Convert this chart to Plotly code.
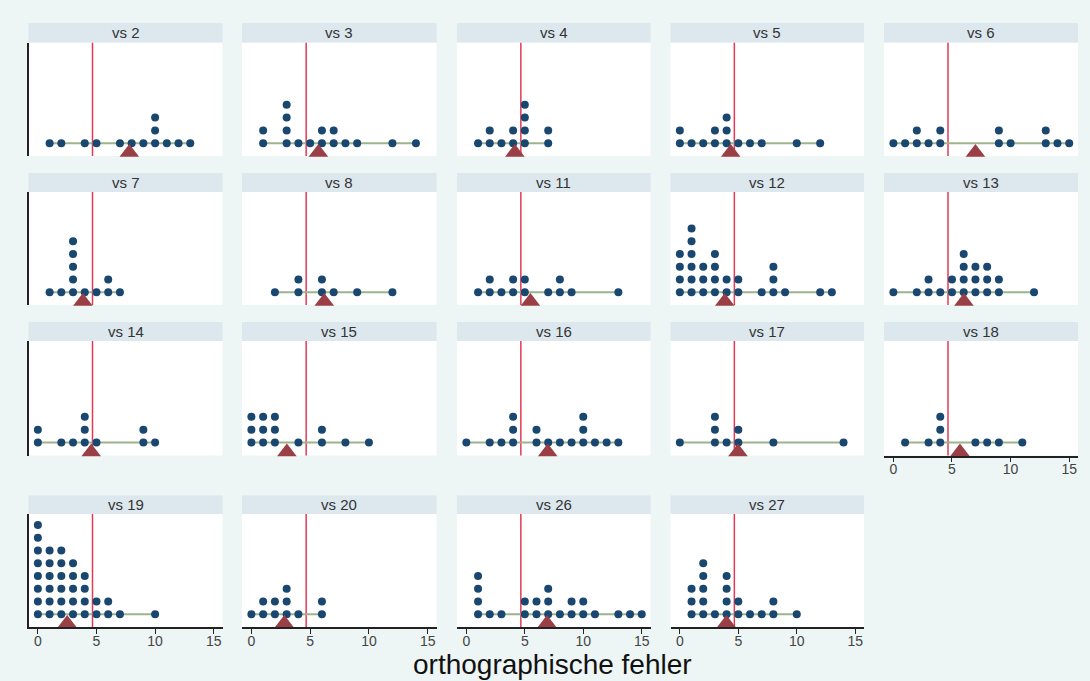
import plotly.graph_objects as go
from collections import Counter

# Orthographic error counts per class (one entry per pupil)
vs2 = [1, 2, 4, 5, 7, 8, 9, 10, 10, 10, 11, 12, 13]
vs3 = [1, 1, 3, 3, 3, 3, 4, 5, 6, 6, 7, 7, 8, 9, 12, 14]
vs4 = [1, 2, 2, 3, 4, 4, 5, 5, 5, 5, 7, 7]
vs5 = [0, 0, 1, 2, 3, 3, 4, 4, 4, 5, 6, 7, 10, 12]
vs6 = [0, 1, 2, 2, 3, 4, 4, 9, 9, 10, 13, 13, 14, 15]
vs7 = [1, 2, 3, 3, 3, 3, 3, 4, 5, 6, 6, 7]
vs8 = [2, 4, 4, 6, 6, 7, 9, 12]
vs11 = [1, 2, 2, 3, 4, 4, 5, 5, 7, 8, 8, 9, 13]
vs12 = [0, 0, 0, 0, 1, 1, 1, 1, 1, 1, 2, 2, 2, 3, 3, 3, 3, 4, 4, 5, 5,
        7, 8, 8, 8, 9, 12, 13]
vs13 = [0, 2, 3, 3, 4, 5, 5, 6, 6, 6, 6, 7, 7, 7, 8, 8, 8, 9, 9, 12]
vs14 = [0, 0, 2, 3, 4, 4, 4, 5, 9, 9, 10]
vs15 = [0, 0, 0, 1, 1, 1, 2, 2, 2, 4, 6, 6, 8, 10]
vs16 = [0, 2, 3, 4, 4, 4, 6, 6, 7, 8, 9, 10, 10, 10, 11, 12, 13]
vs17 = [0, 3, 3, 3, 4, 5, 5, 8, 14]
vs18 = [1, 3, 4, 4, 4, 7, 8, 9, 11]
vs19 = [0] * 8 + [1] * 6 + [2] * 6 + [3] * 5 + [4] * 4 + [5] * 2 + [6] * 2 + [7, 10]
vs20 = [0, 1, 1, 2, 2, 3, 3, 3, 4, 6, 6]
vs26 = [1, 1, 1, 1, 2, 3, 5, 5, 6, 6, 7, 7, 7, 8, 9, 9, 10, 10, 11, 13, 14, 15]
vs27 = [1, 1, 1, 2, 2, 2, 2, 2, 3, 4, 4, 4, 4, 5, 5, 6, 7, 8, 8, 10]

class_labels = ["vs 2", "vs 3", "vs 4", "vs 5", "vs 6",
                "vs 7", "vs 8", "vs 11", "vs 12", "vs 13",
                "vs 14", "vs 15", "vs 16", "vs 17", "vs 18",
                "vs 19", "vs 20", "vs 26", "vs 27"]
class_values = [vs2, vs3, vs4, vs5, vs6, vs7, vs8, vs11, vs12, vs13,
                vs14, vs15, vs16, vs17, vs18, vs19, vs20, vs26, vs27]
# class means (triangles) and overall mean (vertical line)
class_means = [7.8, 5.7, 4.15, 4.35, 7.0, 3.84, 6.2, 5.48, 3.84, 6.02,
               4.55, 3.02, 6.96, 4.97, 5.68, 2.5, 2.8, 6.9, 3.98]
overall_mean = 4.66
x_ticks = [0, 5, 10, 15]

W, H = 1090, 681
BG = "#edf5f5"
HEADER = "#dce8ee"
DOT = "#1a476f"
TRI = "#9a3f45"
SPAN = "#9db38c"
MEANLINE = "#e23a55"
AXIS = "#222222"
FONT = "Liberation Sans, Arial, sans-serif"

col_px = [(28.5, 222.5), (242, 436.5), (457, 650.5), (670.5, 864), (884, 1078)]
row_plot_px = [(42.5, 156), (192, 305), (341, 455.5), (514, 627)]
row_head_px = [(23, 42.5), (173, 192), (322, 341), (495.5, 514)]
x_range = [-0.8, 15.75]
y_range = [-1.0, 7.86]

fig = go.Figure()
layout = {}
shapes = []
annotations = []

n_panels = len(class_labels)
for i, (label, vals, mu) in enumerate(zip(class_labels, class_values, class_means)):
    r, c = divmod(i, 5)
    k = i + 1
    xa = "x" if k == 1 else f"x{k}"
    ya = "y" if k == 1 else f"y{k}"
    x0p, x1p = col_px[c]
    y0p, y1p = row_plot_px[r]
    # bottom panel in each column gets the x axis
    has_xaxis = i + 5 >= n_panels
    left_col = c == 0

    layout["xaxis" if k == 1 else f"xaxis{k}"] = dict(
        domain=[x0p / W, x1p / W], anchor=ya, range=x_range, fixedrange=True,
        showgrid=False, zeroline=False,
        showline=has_xaxis, linecolor=AXIS, linewidth=1.5,
        ticks="outside" if has_xaxis else "", ticklen=5, tickcolor=AXIS,
        tickvals=x_ticks, showticklabels=has_xaxis, ticklabelstandoff=-5,
        tickfont=dict(family=FONT, size=14, color="#444444"),
    )
    layout["yaxis" if k == 1 else f"yaxis{k}"] = dict(
        domain=[1 - y1p / H, 1 - y0p / H], anchor=xa, range=y_range,
        fixedrange=True, showgrid=False, zeroline=False,
        showticklabels=False, ticks="",
        showline=left_col, linecolor=AXIS, linewidth=1.5,
    )

    # stacked dot positions
    counts = Counter(vals)
    xs, ys = [], []
    for v in sorted(counts):
        for j in range(counts[v]):
            xs.append(v)
            ys.append(j)

    fig.add_trace(go.Scatter(
        x=[min(vals), max(vals)], y=[0, 0], mode="lines",
        line=dict(color=SPAN, width=2), xaxis=xa, yaxis=ya,
        hoverinfo="skip", showlegend=False))
    fig.add_trace(go.Scatter(
        x=xs, y=ys, mode="markers",
        marker=dict(color=DOT, size=8, line=dict(width=0)),
        xaxis=xa, yaxis=ya, showlegend=False))
    fig.add_trace(go.Scatter(
        x=[mu], y=[-0.72], mode="markers", cliponaxis=False,
        marker=dict(symbol="triangle-up", color=TRI, size=17, line=dict(width=0)),
        xaxis=xa, yaxis=ya, showlegend=False))

    shapes.append(dict(
        type="line", xref=xa, yref=f"{ya} domain", x0=overall_mean, x1=overall_mean,
        y0=0, y1=1, line=dict(color=MEANLINE, width=1.5), layer="below"))

    hy0, hy1 = row_head_px[r]
    shapes.append(dict(
        type="rect", xref="paper", yref="paper",
        x0=x0p / W, x1=x1p / W, y0=1 - hy1 / H, y1=1 - hy0 / H,
        fillcolor=HEADER, line=dict(width=0), layer="below"))
    annotations.append(dict(
        text=label, xref="paper", yref="paper",
        x=(x0p + x1p) / 2 / W, y=1 - (hy0 + hy1) / 2 / H,
        xanchor="center", yanchor="middle", showarrow=False,
        font=dict(family=FONT, size=15, color="#333333")))

annotations.append(dict(
    text="orthographische fehler", xref="paper", yref="paper",
    x=552 / W, y=1 - 664 / H, xanchor="center", yanchor="middle",
    showarrow=False, font=dict(family=FONT, size=28, color="#111111")))

fig.update_layout(
    width=W, height=H, margin=dict(l=0, r=0, t=0, b=0),
    paper_bgcolor=BG, plot_bgcolor="white",
    shapes=shapes, annotations=annotations, **layout)

fig.write_html("out.html")
